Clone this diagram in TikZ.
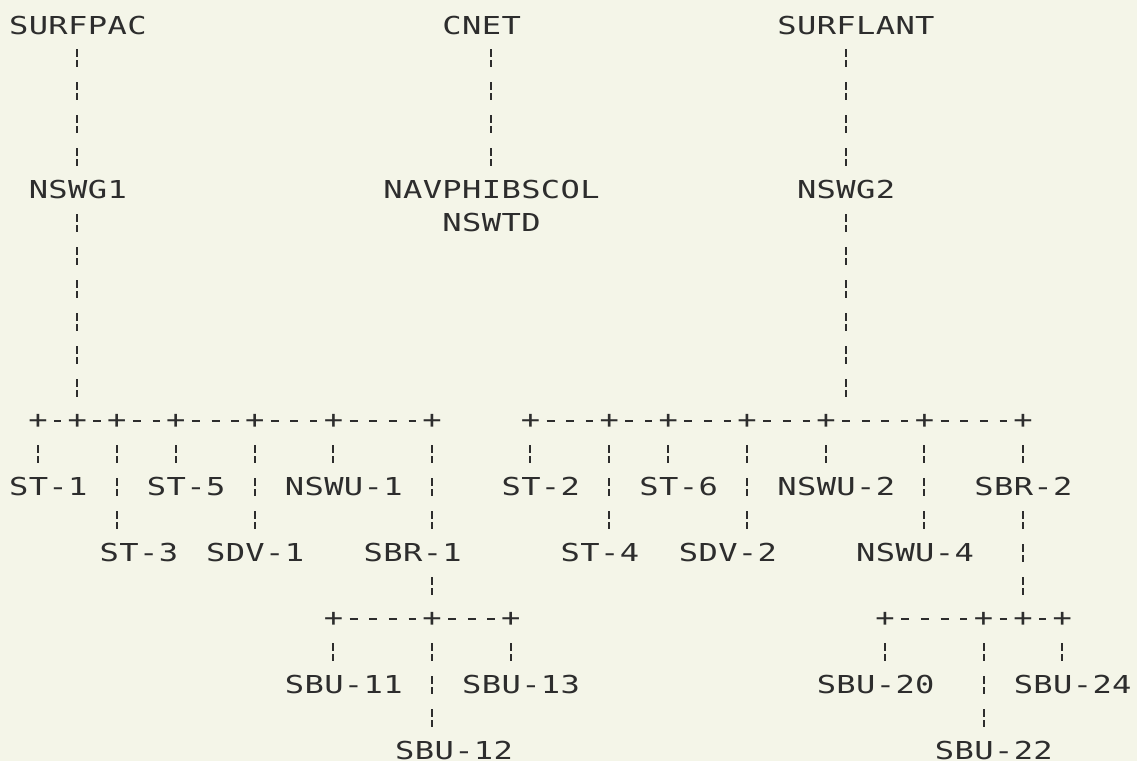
\documentclass[tikz,border=0pt]{standalone}
\usepackage{fontspec}
\usepackage{xcolor}
\usepackage{tikz}
\newfontfamily\typewr[FakeStretch=1.3,LetterSpace=1.5]{DejaVu Sans Mono}
\definecolor{paper}{RGB}{244,245,232}
\definecolor{ink}{RGB}{45,45,45}

\begin{document}
\begin{tikzpicture}[x=9.85pt, y=-16.5pt,
            unit/.style={anchor=west, xshift=-4.8pt, inner sep=0pt, minimum height=24pt, text=ink, font=\typewr\fontsize{12.35pt}{14pt}\selectfont},
            plus/.style={inner sep=0pt, minimum width=15.7pt, minimum height=24pt, text=ink, font=\typewr\fontsize{12.35pt}{14pt}\selectfont},
            vbar/.style={draw=ink, line width=1pt, dash pattern=on 4pt off 1.5pt on 3.5pt off 7.5pt},
            hbar/.style={draw=ink, line width=1pt, dash pattern=on 4pt off 5.85pt}]
        \fill[paper] (-0.929,-0.758) rectangle (56.79,22.30);

        % commands and groups
        \node[unit] (surfpac) at (0,0) {SURFPAC};
        \node[unit] (cnet) at (22,0) {CNET};
        \node[unit] (surflant) at (39,0) {SURFLANT};
        \node[unit] (nswg1) at (1,5) {NSWG1};
        \node[unit] (navphib) at (19,5) {NAVPHIBSCOL};
        \node[unit] (nswtd) at (22,6) {NSWTD};
        \node[unit] (nswg2) at (40,5) {NSWG2};
        \coordinate (tL) at (3,0);
        \coordinate (tC) at (24,0);
        \coordinate (tR) at (42,0);

        % junctions
        \foreach \c in {1,3,5,8,12,16,21} \node[plus] (j\c) at (\c,12) {+};
        \foreach \c in {26,30,33,37,41,46,51} \node[plus] (r\c) at (\c,12) {+};
        \foreach \c in {16,21,25} \node[plus] (k\c) at (\c,18) {+};
        \foreach \c in {44,49,51,53} \node[plus] (s\c) at (\c,18) {+};

        % units
        \node[unit] (st1) at (0,14) {ST-1};
        \node[unit] (st5) at (7,14) {ST-5};
        \node[unit] (nswu1) at (14,14) {NSWU-1};
        \node[unit] (st2) at (25,14) {ST-2};
        \node[unit] (st6) at (32,14) {ST-6};
        \node[unit] (nswu2) at (39,14) {NSWU-2};
        \node[unit] (sbr2) at (49,14) {SBR-2};
        \node[unit] (st3) at (4.6,16) {ST-3};
        \node[unit] (sdv1) at (10,16) {SDV-1};
        \node[unit] (sbr1) at (18,16) {SBR-1};
        \node[unit] (st4) at (28,16) {ST-4};
        \node[unit] (sdv2) at (34,16) {SDV-2};
        \node[unit] (nswu4) at (43,16) {NSWU-4};
        \node[unit] (sbu11) at (14,20) {SBU-11};
        \node[unit] (sbu13) at (23,20) {SBU-13};
        \node[unit] (sbu20) at (41,20) {SBU-20};
        \node[unit] (sbu24) at (51,20) {SBU-24};
        \node[unit] (sbu12) at (19.6,22) {SBU-12};
        \node[unit] (sbu22) at (47,22) {SBU-22};

        % trunks
        \draw[vbar] (surfpac.south -| tL) -- (nswg1.north -| tL);
        \draw[vbar] (nswg1.south -| tL) -- (j3);
        \draw[vbar] (cnet.south -| tC) -- (navphib.north -| tC);
        \draw[vbar] (surflant.south -| tR) -- (nswg2.north -| tR);
        \draw[vbar] (nswg2.south -| tR) -- (r41.north -| tR);

        \draw[hbar] (j1) -- (j3) -- (j5) -- (j8) -- (j12) -- (j16) -- (j21);
        \draw[hbar] (r26) -- (r30) -- (r33) -- (r37) -- (r41) -- (r46) -- (r51);
        \draw[hbar] (k16) -- (k21) -- (k25);
        \draw[hbar] (s44) -- (s49) -- (s51) -- (s53);

        % drops
        \foreach \j/\u in {j1/st1, j5/st3, j8/st5, j12/sdv1, j16/nswu1, j21/sbr1,
                r26/st2, r30/st4, r33/st6, r37/sdv2, r41/nswu2, r46/nswu4, r51/sbr2,
                k16/sbu11, k21/sbu12, k25/sbu13, s44/sbu20, s49/sbu22, s53/sbu24}
            \draw[vbar] (\j.south) -- (\j.south |- \u.north);
        \draw[vbar] (sbr1.south -| k21) -- (k21);
        \draw[vbar] (sbr2.south -| s51) -- (s51);
    \end{tikzpicture}
\end{document}
